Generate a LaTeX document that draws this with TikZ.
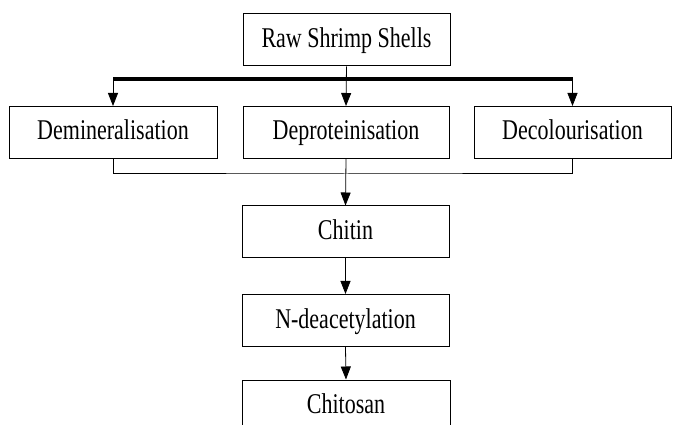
\documentclass[tikz,border=0pt]{standalone}
\usepackage{fontspec}
\setmainfont{Liberation Serif}
\usetikzlibrary{arrows.meta}
\newcommand{\tallLabel}[1]{\scalebox{1}[1.3]{#1}}

\begin{document}
\begin{tikzpicture}[x=1pt, y=-1pt,
    stage/.style={draw, line width=1pt, minimum height=52pt, inner sep=0pt,
      text height=21pt, text depth=6pt, font=\fontsize{22}{26}\selectfont},
    flow/.style={line width=0.8pt, -{Triangle[length=13pt, width=10pt]}}]
        \useasboundingbox (0,0) rectangle (673,425);
        \clip (0,0) rectangle (673,425);
        % boxes
        \node[stage, minimum width=207pt] (raw) at (346.5,40) {\tallLabel{Raw Shrimp Shells}};
        \node[stage, minimum width=208pt] (demin) at (113,132.5) {\tallLabel{Demineralisation}};
        \node[stage, minimum width=206pt] (deprot) at (346,132.5) {\tallLabel{Deproteinisation}};
        \node[stage, minimum width=197pt] (decol) at (572.5,132.5) {\tallLabel{Decolourisation}};
        \node[stage, minimum width=207pt] (chitin) at (345.5,232) {\tallLabel{Chitin}};
        \node[stage, minimum width=207pt] (deac) at (345.5,320.5) {\tallLabel{N-deacetylation}};
        \node[stage, minimum width=208pt] (chitosan) at (346,406) {\tallLabel{Chitosan}};
        \coordinate (bus) at (346,79);
        \coordinate (join) at (346,174);
        % split
        \draw[line width=3.5pt] (demin.north |- bus) -- (decol.north |- bus);
        \draw[flow] (raw.south) -- (deprot.north);
        \draw[flow] (demin.north |- bus) -- (demin.north);
        \draw[flow] (decol.north |- bus) -- (decol.north);
        % merge
        \draw[line width=1pt] (demin.south) |- (join) -| (decol.south);
        \draw[flow] (deprot.south) -- (chitin.north);
        \draw[flow] (chitin.south) -- (deac.north);
        \draw[flow] (deac.south) -- (chitosan.north);
      \end{tikzpicture}
\end{document}
